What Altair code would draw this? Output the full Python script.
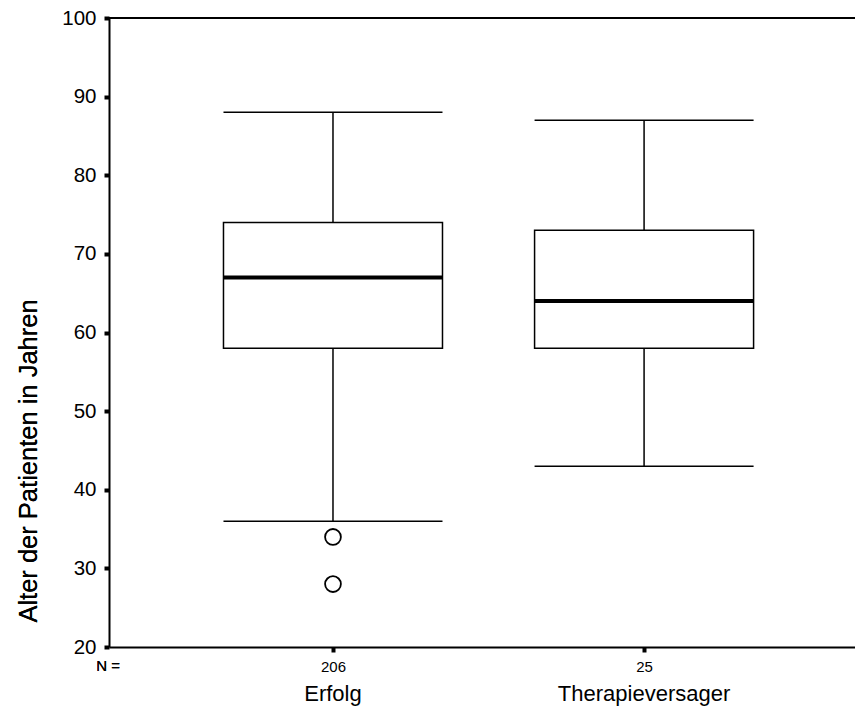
import altair as alt
import pandas as pd

# ---- data ----
groups = ["Erfolg", "Therapieversager"]
positions = [1, 2]
n_counts = [206, 25]
lower_whisker = [36, 43]
q1 = [58, 58]
median = [67, 64]
q3 = [74, 73]
upper_whisker = [88, 87]
outlier_group = ["Erfolg", "Erfolg"]
outlier_values = [34, 28]
y_ticks = [20, 30, 40, 50, 60, 70, 80, 90, 100]

W, H = 746, 629
FONT = "Liberation Sans"
HALF = 0.352

boxes = pd.DataFrame({
    "group": groups, "pos": positions, "n": n_counts,
    "lo": lower_whisker, "q1": q1, "med": median, "q3": q3, "hi": upper_whisker,
})
boxes["left"] = boxes["pos"] - HALF
boxes["right"] = boxes["pos"] + HALF
pos_map = dict(zip(groups, positions))
outl = pd.DataFrame({"group": outlier_group, "value": outlier_values})
outl["pos"] = outl["group"].map(pos_map)

xscale = alt.Scale(domain=[0.28, 2.678], nice=False, zero=False)
yscale = alt.Scale(domain=[20, 100], nice=False, zero=False)

label_expr = " : ".join(
    [f"datum.value == {p} ? '{n}'" for p, n in zip(positions, n_counts)]
) + " : ''"

xaxis = alt.Axis(values=positions, labelExpr=label_expr, title=None, grid=False,
                 tickSize=5, tickWidth=4, tickColor="black", domainColor="black",
                 domainWidth=2, labelFontSize=15, labelFont=FONT, labelColor="black",
                 labelPadding=7)
yaxis = alt.Axis(values=y_ticks, title=None, grid=False, tickSize=5, tickWidth=4,
                 tickColor="black", domainColor="black", domainWidth=2,
                 labelFontSize=20.5, labelFont=FONT, labelColor="black", labelPadding=8)

base = alt.Chart(boxes)

whisk_low = base.mark_rule(color="black", strokeWidth=1.5).encode(
    x=alt.X("pos:Q", scale=xscale, axis=xaxis),
    y=alt.Y("lo:Q", scale=yscale, axis=yaxis),
    y2="q1:Q",
)
whisk_high = base.mark_rule(color="black", strokeWidth=1.5).encode(
    x=alt.X("pos:Q", scale=xscale), y=alt.Y("q3:Q", scale=yscale), y2="hi:Q")
cap_low = base.mark_rule(color="black", strokeWidth=1.5).encode(
    x=alt.X("left:Q", scale=xscale), x2="right:Q", y=alt.Y("lo:Q", scale=yscale))
cap_high = base.mark_rule(color="black", strokeWidth=1.5).encode(
    x=alt.X("left:Q", scale=xscale), x2="right:Q", y=alt.Y("hi:Q", scale=yscale))
box = base.mark_rect(fill="white", stroke="black", strokeWidth=1.5).encode(
    x=alt.X("left:Q", scale=xscale), x2="right:Q",
    y=alt.Y("q1:Q", scale=yscale), y2="q3:Q")
med = base.mark_rule(color="black", strokeWidth=4).encode(
    x=alt.X("left:Q", scale=xscale), x2="right:Q", y=alt.Y("med:Q", scale=yscale))
outliers = alt.Chart(outl).mark_point(shape="circle", size=250, filled=False,
                                      color="black", strokeWidth=1.8, fill="white",
                                      fillOpacity=1).encode(
    x=alt.X("pos:Q", scale=xscale), y=alt.Y("value:Q", scale=yscale))
cat_labels = base.mark_text(font=FONT, fontSize=22, color="black", baseline="alphabetic",
                            align="center").encode(
    x=alt.X("pos:Q", scale=xscale), y=alt.value(H + 54), text="group:N")
top_line = base.mark_rule(color="black", strokeWidth=2).encode(
    x=alt.value(0), x2=alt.value(W), y=alt.value(0))
n_label = base.mark_text(font=FONT, fontSize=15, color="black", align="center",
                         baseline="middle").encode(
    x=alt.value(-1), y=alt.value(H + 19), text=alt.value("N ="))
y_title = base.mark_text(font=FONT, fontSize=25.5, color="black", align="center",
                         baseline="middle", angle=270).encode(
    x=alt.value(-80), y=alt.value(443), text=alt.value("Alter der Patienten in Jahren"))

chart = alt.layer(
    whisk_low, whisk_high, cap_low, cap_high, box, med, outliers,
    cat_labels, top_line, n_label, y_title,
).properties(
    width=W, height=H,
    autosize=alt.AutoSizeParams(type="none"),
    padding={"left": 109, "top": 18, "right": 0, "bottom": 64},
    background="white",
).configure_view(stroke=None)

chart.save("out.html", embed_options={"renderer": "svg", "actions": False})
